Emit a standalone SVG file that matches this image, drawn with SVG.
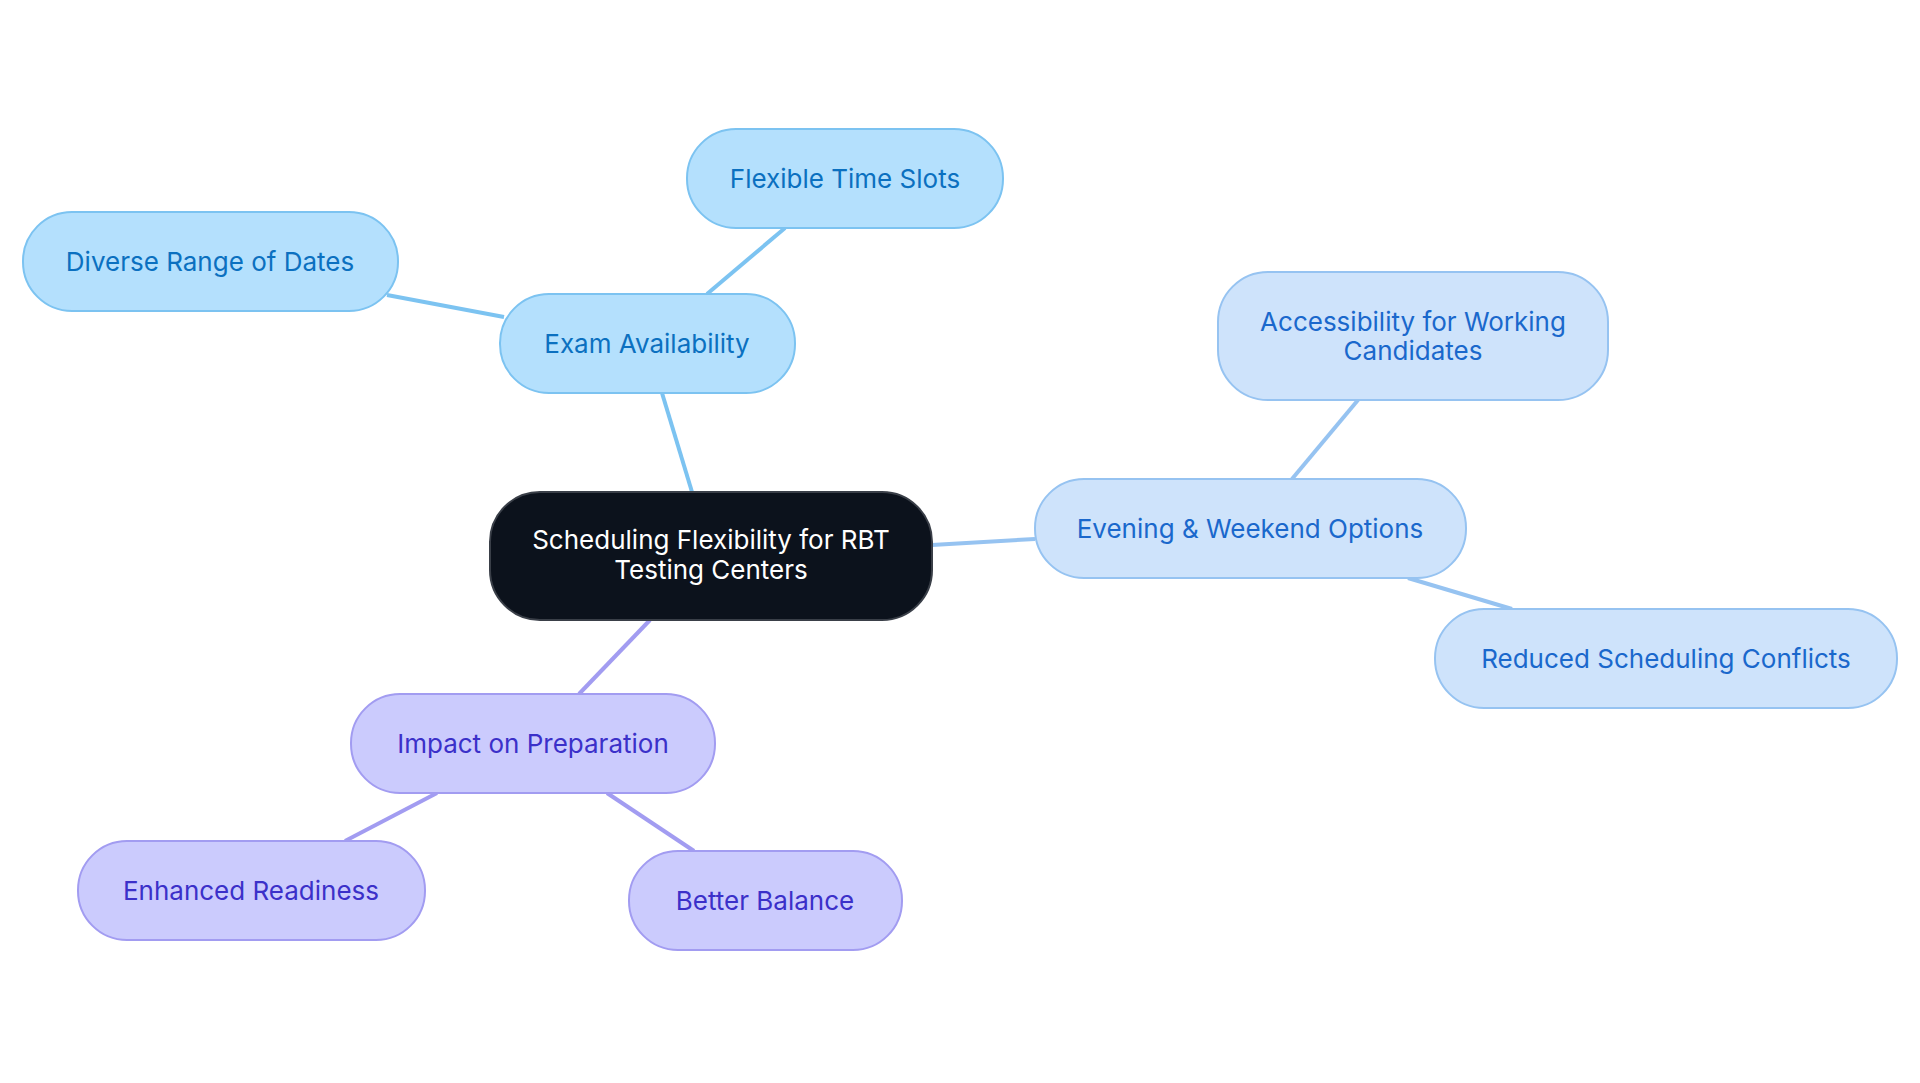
<svg xmlns="http://www.w3.org/2000/svg" width="1920" height="1083" viewBox="0 0 1920 1083">
<style>
text{font-family:Inter,"Noto Sans",sans-serif;font-size:26px;text-anchor:middle;dominant-baseline:central}
.a rect{fill:#b4e0fd;stroke:#7cc3f1;stroke-width:2}.a text{fill:#0b70c0}
.b rect{fill:#cee3fb;stroke:#96c3f1;stroke-width:2}.b text{fill:#1a68cc}
.c rect{fill:#cbcbfd;stroke:#a29cf1;stroke-width:2}.c text{fill:#3b30c9}
#connectors line{stroke-width:4;fill:none}
</style>
<rect width="1920" height="1083" fill="#fff"/>
<g id="connectors">
<line x1="692" y1="492" x2="662" y2="393" stroke="#7cc3f1"/>
<line x1="707" y1="294" x2="785" y2="228" stroke="#7cc3f1"/>
<line x1="504" y1="317" x2="387" y2="295" stroke="#7cc3f1"/>
<line x1="932" y1="545" x2="1035" y2="539" stroke="#96c3f1"/>
<line x1="1292" y1="479" x2="1358" y2="400" stroke="#96c3f1"/>
<line x1="1408" y1="578" x2="1512" y2="609" stroke="#96c3f1"/>
<line x1="650" y1="620" x2="579" y2="694" stroke="#a29cf1"/>
<line x1="437" y1="793" x2="345" y2="841" stroke="#a29cf1"/>
<line x1="607" y1="793" x2="694" y2="851" stroke="#a29cf1"/>
</g>
<g id="center"><rect x="490" y="492" width="442" height="128" rx="50" fill="#0c121c" stroke="#3a3f48" stroke-width="2"/>
<text x="711" y="539" fill="#fff">Scheduling Flexibility for RBT</text><text x="711" y="569" fill="#fff">Testing Centers</text></g>
<g id="exam" class="a"><rect x="500" y="294" width="295" height="99" rx="49"/><text x="647" y="343">Exam Availability</text></g>
<g id="flex" class="a"><rect x="687" y="129" width="316" height="99" rx="49"/><text x="845" y="178">Flexible Time Slots</text></g>
<g id="diverse" class="a"><rect x="23" y="212" width="375" height="99" rx="49"/><text x="210" y="261">Diverse Range of Dates</text></g>
<g id="evening" class="b"><rect x="1035" y="479" width="431" height="99" rx="49"/><text x="1250" y="528">Evening &amp; Weekend Options</text></g>
<g id="access" class="b"><rect x="1218" y="272" width="390" height="128" rx="50"/><text x="1413" y="321">Accessibility for Working</text><text x="1413" y="350">Candidates</text></g>
<g id="reduced" class="b"><rect x="1435" y="609" width="462" height="99" rx="49"/><text x="1666" y="658">Reduced Scheduling Conflicts</text></g>
<g id="impact" class="c"><rect x="351" y="694" width="364" height="99" rx="49"/><text x="533" y="743">Impact on Preparation</text></g>
<g id="enhanced" class="c"><rect x="78" y="841" width="347" height="99" rx="49"/><text x="251" y="890">Enhanced Readiness</text></g>
<g id="better" class="c"><rect x="629" y="851" width="273" height="99" rx="49"/><text x="765" y="900">Better Balance</text></g>
</svg>
